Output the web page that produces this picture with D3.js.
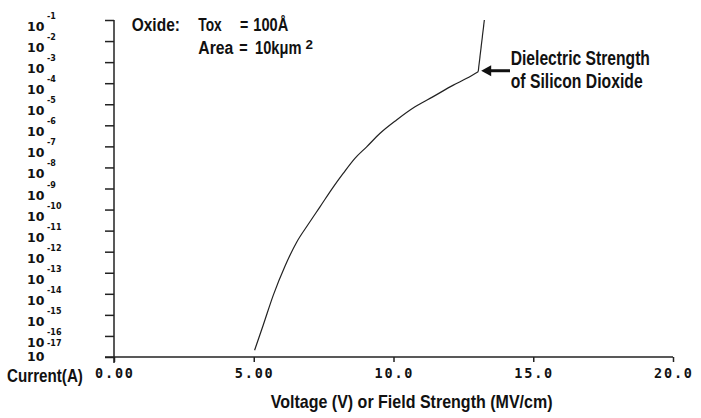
<!DOCTYPE html>
<html>
<head>
<meta charset="utf-8">
<script src="https://cdn.jsdelivr.net/npm/d3@7"></script>
<style>
  html, body { margin: 0; padding: 0; background: #fff; }
  svg { display: block; }
  .lbl { font-family: "Liberation Sans", Arial, sans-serif; font-weight: bold; fill: #111; }
  .xtick { font-family: "DejaVu Sans Mono", monospace; font-weight: bold; fill: #111; }
  .ytick { font-family: "DejaVu Sans", sans-serif; font-weight: bold; fill: #111; }
</style>
</head>
<body>
<div id="chart"></div>
<script>
// I-V curve of a 100A oxide
const voltage = [5.03, 5.34, 5.70, 6.12, 6.54, 6.95, 7.37, 7.85, 8.20, 8.62, 9.04, 9.52, 10.11, 10.77, 11.42, 12.14, 12.62, 13.03, 13.25];
const current = [2.1e-17, 3.3e-16, 8.7e-15, 2.1e-13, 2.9e-12, 2.0e-11, 1.35e-10, 1.2e-9, 5.2e-9, 2.7e-8, 9.5e-8, 4.2e-7, 1.8e-6, 7.6e-6, 2.3e-5, 8.1e-5, 1.7e-4, 3.5e-4, 1.0e-1];

const xTicks = [0, 5, 10, 15, 20];
const xTickLabels = ['0.00', '5.00', '10.0', '15.0', '20.0'];
const yExponents = [-1, -2, -3, -4, -5, -6, -7, -8, -9, -10, -11, -12, -13, -14, -15, -16, -17];

// breakdown point (index into the series)
const breakdownIndex = 17;

const width = 701;
const height = 418;

const svg = d3.select('#chart')
  .append('svg')
  .attr('width', width)
  .attr('height', height);

const x = d3.scaleLinear().domain([0, 20]).range([114, 673]);
const y = d3.scaleLog().domain([1e-17, 1e-1]).range([357, 20]);

// Y axis
const yAxis = d3.axisLeft(y)
  .tickValues(yExponents.map(e => Math.pow(10, e)))
  .tickFormat('')
  .tickSizeInner(9)
  .tickSizeOuter(0);

const gy = svg.append('g')
  .attr('transform', `translate(${x(0)},0)`)
  .call(yAxis);
gy.select('.domain').remove();
gy.selectAll('.tick line').attr('stroke', '#222').attr('stroke-width', 1.5);

svg.append('line')
  .attr('x1', x(0)).attr('x2', x(0))
  .attr('y1', y(1e-1)).attr('y2', y(1e-17) + 6)
  .attr('stroke', '#222').attr('stroke-width', 1.5);

// Y labels: "10" with superscript exponent
yExponents.forEach((e, i) => {
  const ty = y(Math.pow(10, e));
  const last = i === yExponents.length - 1;
  svg.append('text')
    .attr('class', 'ytick')
    .attr('x', 27)
    .attr('y', last ? ty + 4 : ty + 11)
    .attr('font-size', 12.5)
    .text('10');
  svg.append('text')
    .attr('class', 'ytick')
    .attr('x', 47)
    .attr('y', last ? ty - 11 : ty - 1)
    .attr('font-size', 8)
    .text(String(e));
});

// X axis
const xAxis = d3.axisBottom(x)
  .tickValues(xTicks)
  .tickFormat('')
  .tickSizeInner(5)
  .tickSizeOuter(0);

const gx = svg.append('g')
  .attr('transform', `translate(0,${y(1e-17)})`)
  .call(xAxis);
gx.select('.domain').remove();
gx.selectAll('.tick line').attr('stroke', '#222').attr('stroke-width', 1.5);

svg.append('line')
  .attr('x1', 105).attr('x2', x(20))
  .attr('y1', y(1e-17)).attr('y2', y(1e-17))
  .attr('stroke', '#222').attr('stroke-width', 1.5);

svg.selectAll('.xtick')
  .data(xTicks)
  .join('text')
  .attr('class', 'xtick')
  .attr('x', d => x(d))
  .attr('y', 378)
  .attr('text-anchor', 'middle')
  .attr('font-size', 13.5)
  .attr('textLength', 38)
  .attr('lengthAdjust', 'spacing')
  .text((d, i) => xTickLabels[i]);

// curve: smooth up to breakdown, then straight jump
const points = voltage.map((v, i) => [v, current[i]]);
svg.append('path')
  .datum(points.slice(0, breakdownIndex + 1))
  .attr('fill', 'none')
  .attr('stroke', '#222')
  .attr('stroke-width', 1.2)
  .attr('d', d3.line().curve(d3.curveMonotoneX).x(d => x(d[0])).y(d => y(d[1])));
svg.append('path')
  .datum(points.slice(breakdownIndex))
  .attr('fill', 'none')
  .attr('stroke', '#222')
  .attr('stroke-width', 1.2)
  .attr('d', d3.line().x(d => x(d[0])).y(d => y(d[1])));

// condensed bold text: squeeze horizontally to the width seen in the picture
function label(tx, ty, txt, size, w) {
  const t = svg.append('text')
    .attr('class', 'lbl')
    .attr('font-size', size)
    .text(txt);
  const natural = t.node().getComputedTextLength();
  t.attr('transform', `translate(${tx},${ty}) scale(${w / natural},1)`);
  return t;
}

label(7, 382, 'Current(A)', 18, 76);
label(270.7, 407.5, 'Voltage (V) or Field Strength (MV/cm)', 18.5, 282);

// oxide note
label(131.7, 31, 'Oxide:', 17.5, 48.3);
label(198.3, 31, 'Tox', 17.5, 23.4);
label(240, 31, '=', 17.5, 8.3);
label(253.3, 31, '100Å', 17.5, 35);
label(198.3, 54.3, 'Area', 17.5, 35);
label(239.3, 54.3, '=', 17.5, 8.4);
label(255, 54.3, '10kμm', 17.5, 46.5);
label(305.5, 49.3, '2', 12, 7.5);

// breakdown annotation
label(510.7, 65, 'Dielectric Strength', 20, 139.3);
label(510.7, 87.5, 'of Silicon Dioxide', 20, 132);

const bx = x(voltage[breakdownIndex]) + 3;
const by = y(current[breakdownIndex]) - 1;
svg.append('line')
  .attr('x1', bx + 8).attr('x2', 510)
  .attr('y1', by).attr('y2', by)
  .attr('stroke', '#111').attr('stroke-width', 3);
svg.append('path')
  .attr('d', `M${bx},${by} L${bx + 10},${by - 5.5} L${bx + 10},${by + 5.5} Z`)
  .attr('fill', '#111');
</script>
</body>
</html>
